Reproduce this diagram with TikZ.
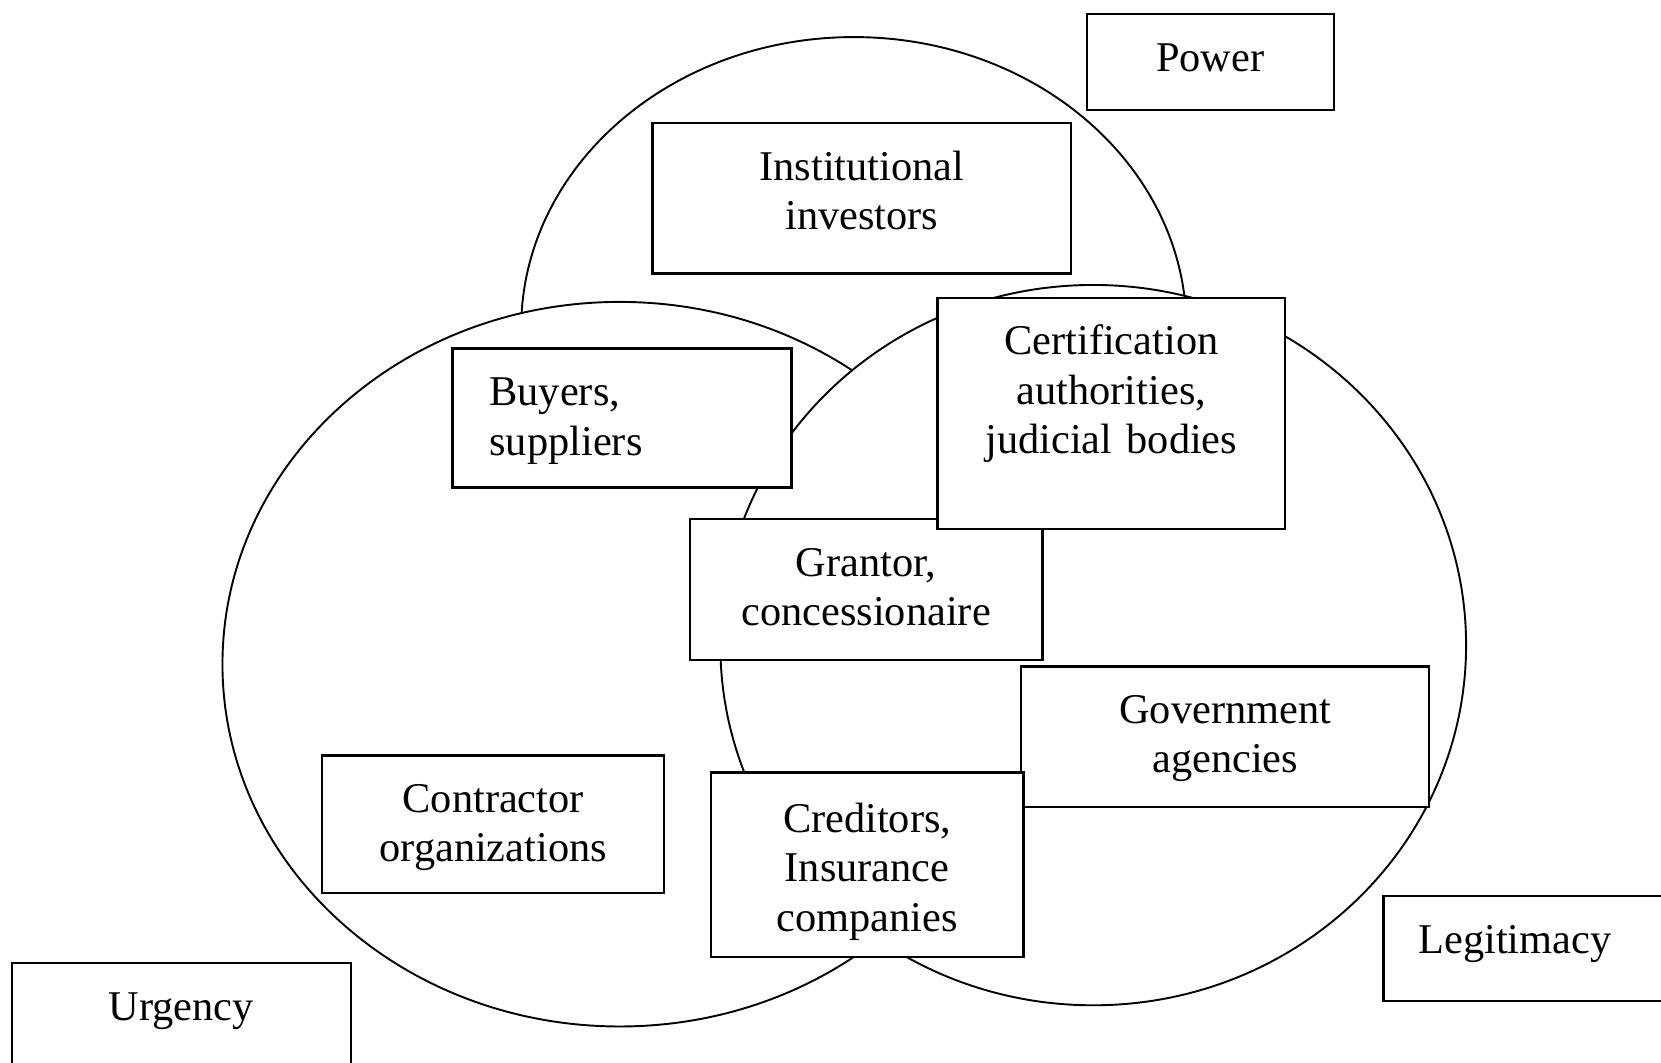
\documentclass[tikz,border=0pt]{standalone}
\usepackage{fontspec}
\setmainfont{Liberation Serif}

\begin{document}
\begin{tikzpicture}[x=1pt, y=-1pt, font=\fontsize{40}{46.5}\selectfont,
        set/.style={draw, fill=white, line width=1.8pt},
        card/.style={draw, fill=white, line width=2.2pt, anchor=north west,
            inner sep=0pt, align=center, text height=54pt}]

    \useasboundingbox (0,0) rectangle (1568,1003);

    \filldraw[set] (806,310) ellipse [x radius=314, y radius=275];
    \filldraw[set] (585,627) ellipse [x radius=375, y radius=342];
    \filldraw[set] (1032,609) ellipse [x radius=352, y radius=340];

    \node[card, text width=233pt, text depth=37pt] (power) at (1025,12) {Power};
    \node[card, text width=395pt, text depth=88pt] (investors) at (615,115) {Institutional\\ investors};
    \node[card, align=left, inner xsep=35pt, text width=250pt, text depth=77pt] (buyers) at (426,328) {Buyers,\\ suppliers};
    \node[card, text width=333pt, text depth=79pt] (grantor) at (650,489) {Grantor,\\ concessionaire};
    \node[card, text width=328pt, text depth=164pt] (certif) at (884,280) {Certification\\ authorities,\\ judicial bodies};
    \node[card, text width=385pt, text depth=79pt] (government) at (963,628) {Government\\ agencies};
    \node[card, text width=323pt, text depth=76pt] (contractor) at (303,712) {Contractor\\ organizations};
    \node[card, text width=295pt, text height=57pt, text depth=117pt] (creditors) at (670,728) {Creditors,\\ Insurance\\ companies};
    \node[card, text width=320pt, text depth=66pt] (urgency) at (10,908) {Urgency};
    \node[card, align=left, inner xsep=33pt, text width=234pt, text depth=45pt] (legitimacy) at (1305,845) {Legitimacy};
\end{tikzpicture}
\end{document}
